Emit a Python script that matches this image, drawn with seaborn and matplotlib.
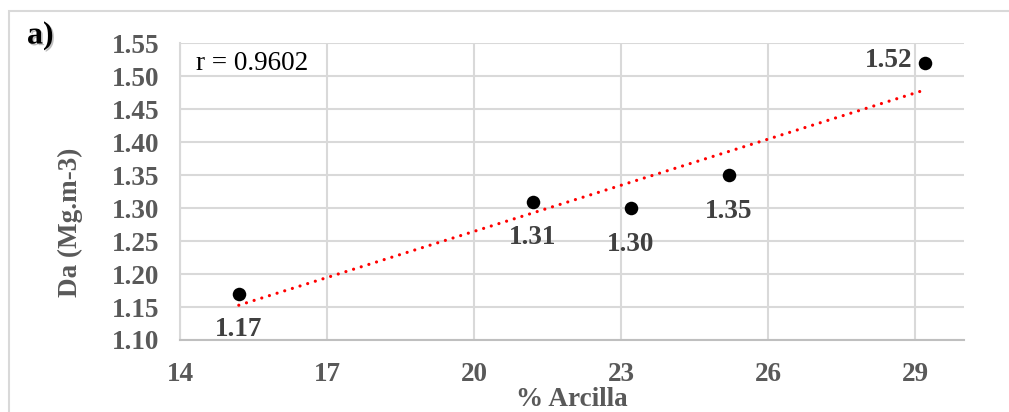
import matplotlib
matplotlib.use("Agg")
import matplotlib.pyplot as plt
from matplotlib.patches import Rectangle
import matplotlib.patheffects as pe
import numpy as np
import pandas as pd
import seaborn as sns

# Clay content (%) and bulk density (Mg.m-3)
arcilla = [15.2, 21.2, 23.2, 25.2, 29.2]
densidad = [1.17, 1.31, 1.30, 1.35, 1.52]
etiquetas = ["1.17", "1.31", "1.30", "1.35", "1.52"]
x_ticks = [14, 17, 20, 23, 26, 29]
y_ticks = [1.10, 1.15, 1.20, 1.25, 1.30, 1.35, 1.40, 1.45, 1.50, 1.55]
r_texto = "r = 0.9602"

df = pd.DataFrame({"arcilla": arcilla, "densidad": densidad})

sns.set_theme(style="white")
plt.rcParams["font.family"] = ["Liberation Serif", "DejaVu Serif"]

W, H = 1009, 412
FS = 19.5
fig = plt.figure(figsize=(W / 100, H / 100), dpi=100)
ax = fig.add_axes([180 / W, 1 - 340 / H, (964 - 180) / W, (340 - 43.3) / H])

grid_c = "#d9d9d9"
tick_c = "#595959"
lab_c = "#404040"

# Trend line (least squares over the data range)
sns.regplot(data=df, x="arcilla", y="densidad", ax=ax, scatter=False, ci=None,
            truncate=True,
            line_kws=dict(color="#ff0000", lw=2.3, linestyle=(0, (0.01, 2.5)),
                          dash_capstyle="round", zorder=3))
sns.scatterplot(data=df, x="arcilla", y="densidad", ax=ax, color="black",
                s=95, edgecolor="black", linewidth=0, zorder=4)

ax.set_xlim(14, 30)
ax.set_ylim(1.10, 1.55)
ax.set_xticks(x_ticks)
ax.set_yticks(y_ticks)
ax.set_yticklabels([f"{v:.2f}" for v in y_ticks])
ax.grid(True, color=grid_c, lw=1.5, zorder=0)
ax.set_axisbelow(True)
for side in ("top", "right"):
    ax.spines[side].set_visible(False)
ax.spines["left"].set_visible(True)
ax.spines["left"].set_color(grid_c)
ax.spines["left"].set_linewidth(1.5)
ax.spines["bottom"].set_color("#bfbfbf")
ax.spines["bottom"].set_linewidth(1.5)
ax.tick_params(axis="both", length=0, labelsize=FS, labelcolor=tick_c)
ax.tick_params(axis="x", pad=16)
ax.tick_params(axis="y", pad=15)
for t in ax.get_xticklabels() + ax.get_yticklabels():
    t.set_fontweight("bold")
ax.set_xlabel("")
ax.set_ylabel("")

# Data labels
for xv, yv, txt in zip(arcilla, densidad, etiquetas):
    if txt == "1.52":
        ax.annotate(txt, (xv, yv), xytext=(-12, 3), textcoords="offset pixels",
                    ha="right", va="center", fontsize=FS, fontweight="bold",
                    color=lab_c)
    else:
        ax.annotate(txt, (xv, yv), xytext=(0, -36), textcoords="offset pixels",
                    ha="center", va="center", fontsize=FS, fontweight="bold",
                    color=lab_c)

fig.text(196 / W, 1 - 63 / H, r_texto, ha="left", va="center", fontsize=FS,
         color="black")

fig.text(572 / W, 0.5 / H, "% Arcilla", ha="center", va="bottom",
         fontsize=FS, fontweight="bold", color=tick_c)
fig.text(70 / W, 1 - 222 / H, "Da (Mg.m-3)", ha="center", va="center",
         rotation=90, fontsize=FS, fontweight="bold", color=tick_c)
fig.text(27 / W, 1 - 36 / H, "a)", ha="left", va="center", fontsize=23,
         fontweight="bold", color="black",
         path_effects=[pe.SimplePatchShadow(offset=(1.2, -1.2), alpha=0.25),
                       pe.Normal()])

# Chart-area frame
fig.patches.append(Rectangle((9 / W, -0.1), 1.1, 1 - 11 / H + 0.1,
                             transform=fig.transFigure, fill=False,
                             edgecolor=grid_c, lw=1.5))

fig.savefig("out.png", dpi=100)
